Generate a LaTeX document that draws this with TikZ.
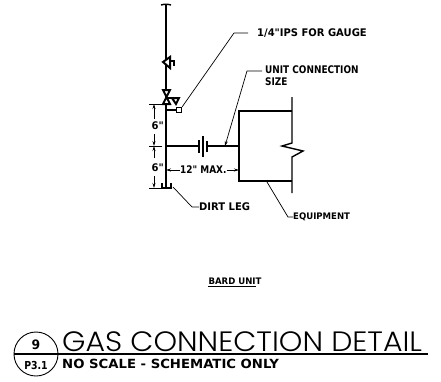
\documentclass[tikz,border=0pt]{standalone}
\usepackage{fontspec}
\usetikzlibrary{positioning,arrows.meta}
\newfontfamily\cadfont[FakeStretch=0.95]{DejaVu Sans}
\newfontfamily\cadnarrow[FakeStretch=0.85]{DejaVu Sans}
\newfontfamily\cadwide[FakeStretch=1.05]{DejaVu Sans}
\newfontfamily\cadtitle[FakeStretch=1.07]{Poppins Light}

\begin{document}
\begin{tikzpicture}[
  x=1pt,y=-1pt,
  pipe/.style={line width=2pt},
  branch/.style={line width=1.4pt},
  thin line/.style={line width=0.7pt},
  dimarrow/.style={line width=0.7pt,-{Stealth[length=5pt,width=3pt]}},
  note/.style={anchor=west,inner sep=0pt,font=\cadfont\bfseries\fontsize{10.5}{11.5}\selectfont,align=left},
  narrow note/.style={note,font=\cadnarrow\bfseries\fontsize{10.5}{11.5}\selectfont},
  small note/.style={note,font=\cadfont\bfseries\fontsize{9}{10}\selectfont}
]
\useasboundingbox (0,0) rectangle (441,381);

% riser
\coordinate (capL) at (161,5);
\coordinate (capR) at (171,5);
\coordinate (top) at (166,5);
\coordinate (bottom) at (166,188);
\draw[pipe] (top) -- (bottom);
\draw[branch] (capL) to[bend left=15] (capR);

% check valve
\draw[pipe,fill=white] (163,62) -- (170,57) -- (170,68) -- cycle;
\draw[branch] (170,61) -- (174,61) -- (174,66);

% cock and gauge tee
\draw[pipe,fill=white] (163,90) -- (170,90) -- (163,104) -- (170,104) -- cycle;
\draw[pipe] (166,98) -- (173,98);
\draw[pipe] (172,98) -- (179,98) -- (176,104) -- cycle;
\coordinate (teeL) at (166,110);
\node[draw,branch,minimum size=5pt,inner sep=0pt] (gauge) at (179,110) {};
\draw[branch] (teeL) -- (gauge);

% connection
\coordinate (teeH) at (166,146);
\coordinate (boxH) at (240,146);
\draw[branch] (teeH) -- (boxH);
\draw[draw=white,line width=3pt] (200,146) -- (206,146);
\draw[branch] (199,140) -- (199,153);
\draw[pipe] (203,136) -- (203,157);
\draw[branch] (207,141) -- (207,152);

% equipment
\coordinate (boxTL) at (239,111);
\coordinate (boxBL) at (239,181);
\draw[pipe] (292,111) -- (boxTL) -- (boxBL) -- (292,181);
\draw[branch] (292,97) -- (292,143) -- (282,146) -- (303,151) -- (292,157) -- (292,193);

% dirt leg
\draw[branch] (162,183) -- (162,188) -- (171,188) -- (171,183);

% dimensions
\foreach \y in {104,146,188}
  \draw[thin line] (149,\y) -- (162,\y);
\draw[dimarrow] (154,119) -- (154,104);
\draw[dimarrow] (154,134) -- (154,146);
\draw[dimarrow] (154,158) -- (154,146);
\draw[dimarrow] (154,176) -- (154,188);
\node[note,anchor=east] (six1) at (164,126) {6"};
\node[note,anchor=east] (six2) at (164,168) {6"};
\node[narrow note] (maxdim) at (180,170) {12" MAX.};
\draw[dimarrow] (maxdim.west) -- (166,170);
\draw[dimarrow] (maxdim.east) -- (239,170);

% leaders
\node[note] (gaugeN) at (257,33) {1/4"IPS FOR GAUGE};
\coordinate (gaugeK) at (234,33);
\draw[thin line] (gaugeN.west) ++(-9,0) -- (gaugeK) -- (gauge.north east);
\node[narrow note,anchor=north west] (unitN) at (265,66) {UNIT CONNECTION\\SIZE};
\coordinate (unitK) at (247,71);
\coordinate (unitA) at (225,146);
\draw[thin line,-{Stealth[length=5pt,width=3pt]}] (262,71) -- (unitK) -- (unitA);
\node[note] (dirtN) at (199,207) {DIRT LEG};
\coordinate (dirtA) at (173,187);
\draw[thin line] (dirtN.west) -- (192,207) -- (dirtA);
\node[small note] (equipN) at (293,217) {EQUIPMENT};
\coordinate (equipA) at (267,182);
\draw[thin line] (equipN.west) -- (288,217) -- (equipA);

% title
\node[small note,anchor=center] (bard) at (235,281) {BARD UNIT};
\draw[thin line] (bard.south west) ++(0,2) -- ++(48,0);
\node[draw,circle,line width=0.9pt,minimum size=44pt,inner sep=0pt] (bubble) at (36,354) {};
\draw[pipe] (bubble.west) -- (428,354);
\node[narrow note,anchor=center,font=\cadfont\bfseries\fontsize{13}{14}\selectfont] (nine) at (36,345) {9};
\node[narrow note,anchor=center,font=\cadnarrow\bfseries\fontsize{11}{12}\selectfont] (sheet) at (36,365) {P3.1};
\node[anchor=south west,inner sep=0pt,text depth=0pt,font=\cadtitle\fontsize{28}{30}\selectfont] (titleN) at (62,352) {GAS CONNECTION DETAIL};
\node[note,text depth=0pt,font=\cadwide\bfseries\fontsize{12.6}{14}\selectfont] (scale) at (62,364) {NO SCALE - SCHEMATIC ONLY};
\end{tikzpicture}
\end{document}
